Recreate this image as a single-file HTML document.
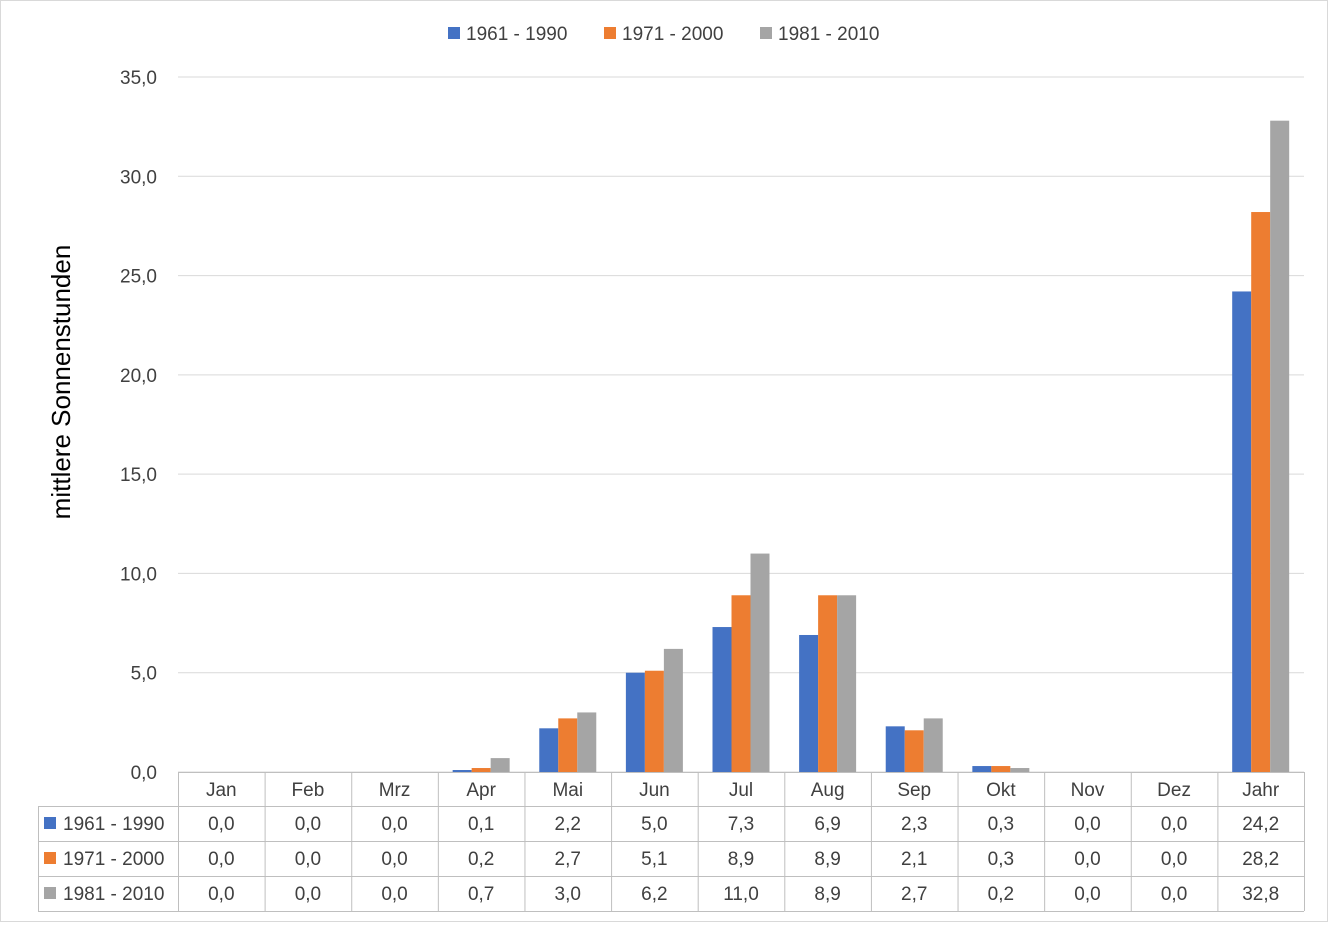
<!DOCTYPE html>
<html><head><meta charset="utf-8">
<style>
body{margin:0;background:#fff;font-family:"Liberation Sans",Arial,sans-serif;}
svg text{font-family:"Liberation Sans",Arial,sans-serif;fill:#404040;}
</style></head>
<body>
<svg id="chart" width="1328" height="922" viewBox="0 0 1328 922" xmlns="http://www.w3.org/2000/svg">
<rect x="0.5" y="0.5" width="1327" height="921" fill="#fff" stroke="#d9d9d9"/>
<g id="grid"></g>
<g id="bars"></g>
<g id="table"></g>
<g id="legend"></g>
<text x="70" y="382" font-size="26" text-anchor="middle" transform="rotate(-90 70 382)" style="fill:#000">mittlere Sonnenstunden</text>
</svg>
<script>
const categories=["Jan","Feb","Mrz","Apr","Mai","Jun","Jul","Aug","Sep","Okt","Nov","Dez","Jahr"];
const seriesNames=["1961 - 1990","1971 - 2000","1981 - 2010"];
const s1961=[0,0,0,0.1,2.2,5.0,7.3,6.9,2.3,0.3,0,0,24.2];
const s1971=[0,0,0,0.2,2.7,5.1,8.9,8.9,2.1,0.3,0,0,28.2];
const s1981=[0,0,0,0.7,3.0,6.2,11.0,8.9,2.7,0.2,0,0,32.8];
const yTicks=[0,5,10,15,20,25,30,35];
const colors=["#4472c4","#ed7d31","#a5a5a5"];
const series=[s1961,s1971,s1981];
const NS="http://www.w3.org/2000/svg";
const x0=178,x1=1304,yBase=772,yTop=77,yMax=35;
const cw=(x1-x0)/categories.length;
const y=v=>yBase-(v/yMax)*(yBase-yTop);
const fmt=v=>v.toFixed(1).replace(".",",");
function mk(tag,attrs,parent){const e=document.createElementNS(NS,tag);for(const k in attrs)e.setAttribute(k,attrs[k]);parent.appendChild(e);return e;}
const grid=document.getElementById("grid");
yTicks.forEach(t=>{
  const l=mk("line",{x1:x0,x2:x1,y1:y(t),y2:y(t),stroke:"#d9d9d9","stroke-width":1},grid);
  
  
  const tx=mk("text",{x:157,y:y(t)+7,"font-size":19,"text-anchor":"end"},grid);
  tx.textContent=fmt(t);
  
  
});
const bars=document.getElementById("bars");
const bw=19,off=(cw-3*bw)/2;
categories.forEach((c,i)=>{
  series.forEach((s,j)=>{
    const r=mk("rect",{x:x0+i*cw+off+j*bw,y:y(s[i]),width:bw,height:yBase-y(s[i]),fill:colors[j]},bars);
    
    
  });
});
const tb=document.getElementById("table");
const rowsY=[772,806,841,876,911];
const lc="#bfbfbf";
// horizontal lines
rowsY.forEach((ry,k)=>{
  const l=mk("line",{x1:k===0?x0:38,x2:x1,y1:ry+0.5,y2:ry+0.5,stroke:lc},tb);
  
  
});
const vl=mk("line",{x1:38.5,x2:38.5,y1:806,y2:911,stroke:lc},tb);


for(let i=0;i<=categories.length;i++){
  const l=mk("line",{x1:x0+i*cw+0.5,x2:x0+i*cw+0.5,y1:772,y2:911,stroke:lc},tb);
  
  
}
categories.forEach((c,i)=>{
  const t=mk("text",{x:x0+i*cw+cw/2,y:796,"font-size":19,"text-anchor":"middle"},tb);
  t.textContent=c;
  
  
  series.forEach((s,j)=>{
    const v=mk("text",{x:x0+i*cw+cw/2,y:rowsY[j+1]+24,"font-size":19,"text-anchor":"middle"},tb);
    v.textContent=fmt(s[i]);
    
    
  });
});
seriesNames.forEach((n,j)=>{
  const r=mk("rect",{x:44,y:rowsY[j+1]+11,width:12,height:12,fill:colors[j]},tb);
  
  
  const t=mk("text",{x:63,y:rowsY[j+1]+24,"font-size":19},tb);
  t.textContent=n;
  
  
});
const lg=document.getElementById("legend");
const lx=[448,604,760];
seriesNames.forEach((n,j)=>{
  const r=mk("rect",{x:lx[j],y:27,width:12,height:12,fill:colors[j]},lg);
  
  
  const t=mk("text",{x:lx[j]+18,y:40,"font-size":19},lg);
  t.textContent=n;
  
  
});
</script>
</body></html>
